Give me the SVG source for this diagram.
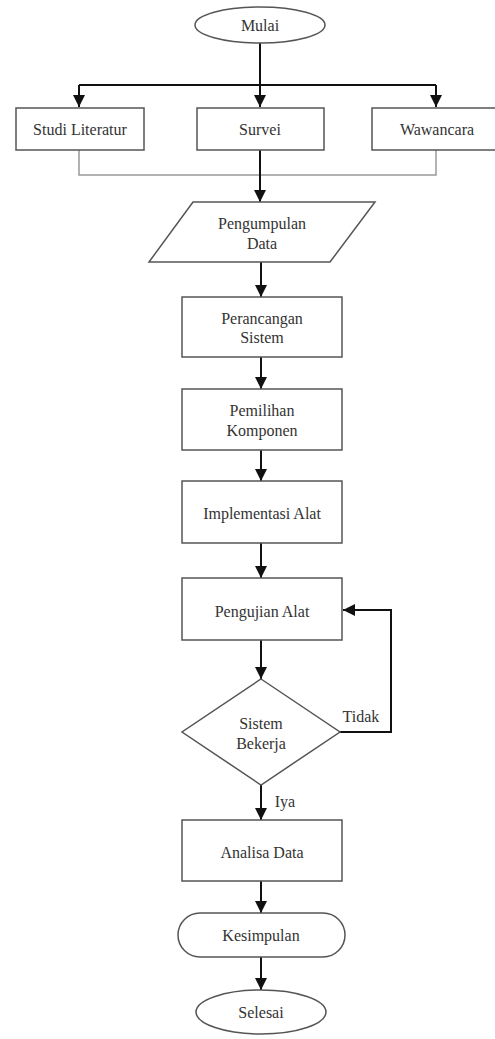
<svg xmlns="http://www.w3.org/2000/svg" width="495" height="1039" viewBox="0 0 495 1039">
<defs>
<style>
.n{fill:#fff;stroke:#555;stroke-width:1.5}
.t{font-family:"Liberation Serif",serif;font-size:16px;fill:#333;text-anchor:middle;dominant-baseline:central}
.c{fill:none;stroke:#111;stroke-width:2}
.g{fill:none;stroke:#999;stroke-width:1.5}
</style>
<marker id="a" viewBox="0 0 10 10" refX="10" refY="5" markerWidth="6" markerHeight="6" orient="auto" markerUnits="strokeWidth">
<path d="M0,0L10,5L0,10z" fill="#111"/>
</marker>
</defs>
<rect width="495" height="1039" fill="#fff"/>
<g id="connectors">
<path class="c" d="M260,43V85"/>
<path class="c" d="M79,85H436"/>
<path class="c" d="M79,85V107" marker-end="url(#a)"/>
<path class="c" d="M260,85V107" marker-end="url(#a)"/>
<path class="c" d="M436,85V107" marker-end="url(#a)"/>
<path class="g" d="M79,150V175H436V150"/>
<path class="c" d="M260,150V202" marker-end="url(#a)"/>
<path class="c" d="M261,262V297" marker-end="url(#a)"/>
<path class="c" d="M261,357V389" marker-end="url(#a)"/>
<path class="c" d="M261,450V481" marker-end="url(#a)"/>
<path class="c" d="M261,543V578" marker-end="url(#a)"/>
<path class="c" d="M261,640V679" marker-end="url(#a)"/>
<path class="c" d="M340,732H391V610H343" marker-end="url(#a)"/>
<path class="c" d="M261,785V820" marker-end="url(#a)"/>
<path class="c" d="M261,881V913" marker-end="url(#a)"/>
<path class="c" d="M261,957V990" marker-end="url(#a)"/>
<text class="t" x="361" y="716">Tidak</text>
<text class="t" x="285" y="801">Iya</text>
</g>
<g id="mulai"><ellipse class="n" cx="260" cy="25" rx="65" ry="18"/><text class="t" x="260" y="25">Mulai</text></g>
<g id="studi"><rect class="n" x="16" y="108" width="128" height="42"/><text class="t" x="80" y="129">Studi Literatur</text></g>
<g id="survei"><rect class="n" x="197" y="108" width="127" height="42"/><text class="t" x="260" y="129">Survei</text></g>
<g id="wawancara"><rect class="n" x="372" y="108" width="132" height="42"/><text class="t" x="437" y="129">Wawancara</text></g>
<g id="pengumpulan"><path class="n" d="M193,202H375L330,262H149Z"/><text class="t" x="262" y="223">Pengumpulan</text><text class="t" x="262" y="243">Data</text></g>
<g id="perancangan"><rect class="n" x="182" y="297" width="160" height="60"/><text class="t" x="262" y="318">Perancangan</text><text class="t" x="262" y="337">Sistem</text></g>
<g id="pemilihan"><rect class="n" x="182" y="389" width="160" height="61"/><text class="t" x="262" y="410">Pemilihan</text><text class="t" x="262" y="430">Komponen</text></g>
<g id="implementasi"><rect class="n" x="182" y="481" width="160" height="62"/><text class="t" x="262" y="513">Implementasi Alat</text></g>
<g id="pengujian"><rect class="n" x="182" y="578" width="160" height="62"/><text class="t" x="262" y="611">Pengujian Alat</text></g>
<g id="keputusan"><path class="n" d="M261,679L340,732L261,785L182,732Z"/><text class="t" x="261" y="723">Sistem</text><text class="t" x="261" y="743">Bekerja</text></g>
<g id="analisa"><rect class="n" x="182" y="820" width="160" height="61"/><text class="t" x="262" y="852">Analisa Data</text></g>
<g id="kesimpulan"><rect class="n" x="178" y="913" width="167" height="44" rx="22" ry="22"/><text class="t" x="261" y="935">Kesimpulan</text></g>
<g id="selesai"><ellipse class="n" cx="261" cy="1012" rx="65" ry="22"/><text class="t" x="261" y="1012">Selesai</text></g>
</svg>
